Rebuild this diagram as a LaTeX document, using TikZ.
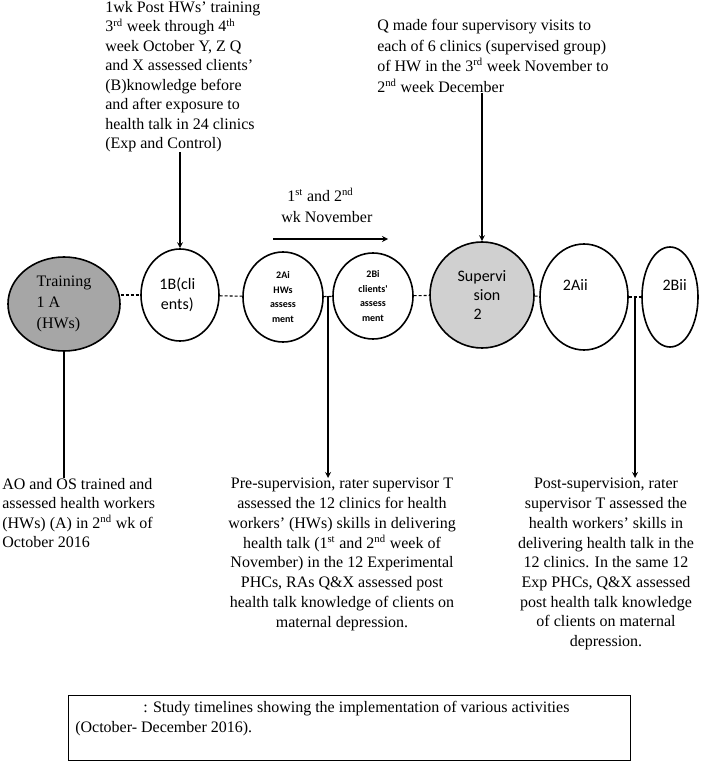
\documentclass[tikz,border=0pt]{standalone}
\usepackage{fontspec}
\setmainfont{Liberation Serif}
\newfontfamily\calib{Carlito}
\usetikzlibrary{shapes.geometric}
\definecolor{trainGray}{HTML}{A6A6A6}
\definecolor{supGray}{HTML}{D0D0D0}

\begin{document}
\begin{tikzpicture}[>=stealth, x=0.75pt, y=-0.75pt]
    \tikzset{phase/.style={draw, ellipse, line width=1.2pt, inner sep=0pt, align=center},
             note/.style={inner sep=0pt, font=\rmfamily\fontsize{12}{14.6}\selectfont},
             link/.style={line width=0.8pt, dash pattern=on 2.2pt off 1.5pt},
             pointer/.style={->, line width=1pt}}
    \useasboundingbox (0,0) rectangle (709,762);
    % timeline phases
    \node[phase, fill=trainGray, minimum width=84pt, minimum height=70.5pt, align=left, font=\rmfamily\fontsize{12}{16}\selectfont] (train) at (64,304) {Training\\1 A\\(HWs)};
    \node[phase, minimum width=58.5pt, minimum height=69pt, font=\calib\fontsize{12}{15}\selectfont] (b1) at (180,295) {1B(cli\hspace*{4pt}\\ents)\hspace*{4pt}};
    \node[phase, minimum width=60pt, minimum height=67.5pt, font=\calib\bfseries\fontsize{7.5}{11}\selectfont] (a2i) at (283,297) {2Ai\\HWs\\assess\\ment};
    \node[phase, minimum width=60pt, minimum height=64.5pt, font=\calib\bfseries\fontsize{7.5}{11}\selectfont] (b2i) at (373,296) {2Bi\\clients'\\assess\\ment};
    \node[phase, fill=supGray, minimum width=78pt, minimum height=79.5pt, align=left, font=\calib\fontsize{12}{14}\selectfont] (sup) at (482,295) {Supervi\\\hspace*{12pt}sion\\\hspace*{12pt}2};
    \node[phase, minimum width=66pt, minimum height=79.5pt, font=\calib\fontsize{12}{14}\selectfont] (a2ii) at (584,297) {2Aii\hspace*{13pt}\\[4pt]};
    \node[phase, minimum width=42pt, minimum height=75pt, font=\calib\fontsize{12}{14}\selectfont] (b2ii) at (670,297) {\hspace*{7pt}2Bii\\[4pt]};
    % dashed joins
    \draw[link] (train.east |- b1.west) -- (b1.west);
    \draw[link] (b1) -- (a2i);
    \draw[link] (a2i) -- coordinate[midway] (m1) (b2i);
    \draw[link] (b2i) -- (sup);
    \draw[link] (sup) -- (a2ii);
    \draw[link] (a2ii) -- coordinate[midway] (m2) (b2ii);
    % notes above
    \node[note, anchor=north west, align=left] (top1) at (105,1) {1wk Post HWs' training\\3\textsuperscript{rd} week through 4\textsuperscript{th}\\week October Y, Z Q\\and X assessed clients'\\(B)knowledge before\\and after exposure to\\health talk in 24 clinics\\(Exp and Control)};
    \node[note, anchor=north west, align=left, font=\rmfamily\fontsize{12}{15.4}\selectfont] (qtext) at (377,19) {Q made four supervisory visits to\\each of 6 clinics (supervised group)\\of HW in the 3\textsuperscript{rd} week November to\\2\textsuperscript{nd} week December};
    \node[note, anchor=north west, align=left, font=\rmfamily\fontsize{12}{16}\selectfont] (nov) at (281,188) {\hspace*{4.5pt}1\textsuperscript{st} and 2\textsuperscript{nd}\\wk November};
    \coordinate (novA) at (273,239);
    \coordinate (novB) at (388,239);
    % notes below
    \node[note, anchor=north west, align=left] (ao) at (2,478) {AO and OS trained and\\assessed health workers\\(HWs) (A) in 2\textsuperscript{nd} wk of\\October 2016};
    \node[note, anchor=north, align=center, font=\rmfamily\fontsize{12}{14.8}\selectfont] (pre) at (342,478) {Pre-supervision, rater supervisor T\\assessed the 12 clinics for health\\workers' (HWs) skills in delivering\\health talk (1\textsuperscript{st} and 2\textsuperscript{nd} week of\\November) in the 12 Experimental\\PHCs, RAs Q\&X assessed post\\health talk knowledge of clients on\\maternal depression.};
    \node[note, anchor=north, align=center, font=\rmfamily\fontsize{12}{14.8}\selectfont] (post) at (606,478) {Post-supervision, rater\\supervisor T assessed the\\health workers' skills in\\delivering health talk in the\\12 clinics. In the same 12\\Exp PHCs, Q\&X assessed\\post health talk knowledge\\of clients on maternal\\depression.};
    % arrows
    \draw[pointer] (b1.north |- top1.south) -- (b1.north);
    \draw[pointer] (sup.north |- qtext.south) -- (sup.north);
    \draw[pointer] (novA) -- (novB);
    \draw[line width=1pt] (train.south) -- (train.south |- ao.north);
    \draw[pointer] (m1) -- (m1 |- pre.north);
    \draw[pointer] (m2) -- (m2 |- post.north);
    % caption
    \node[draw, line width=0.8pt, anchor=north west, minimum width=421.5pt, minimum height=48.75pt, inner sep=0pt] (capbox) at (68,695) {};
    \node[note, anchor=north west, align=left] (captext) at (75,701) {\hspace*{51pt}: Study timelines showing the implementation of various activities\\(October- December 2016).};
\end{tikzpicture}
\end{document}
